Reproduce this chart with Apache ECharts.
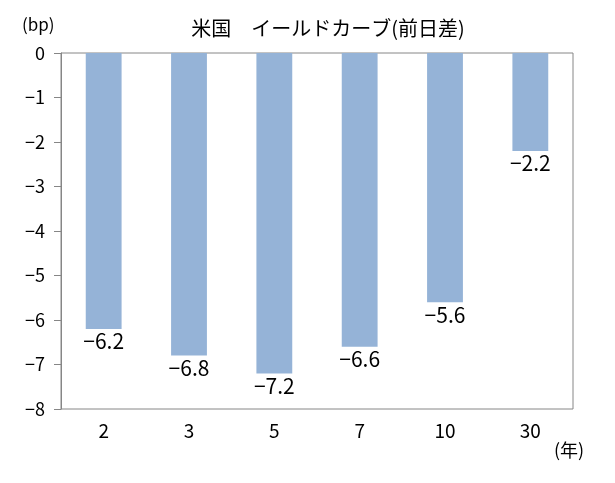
<!DOCTYPE html>
<html>
<head>
<meta charset="utf-8">
<script src="https://cdn.jsdelivr.net/npm/echarts@6/dist/echarts.min.js"></script>
<style>
  html, body { margin: 0; padding: 0; background: #fff; }
  #chart { width: 615px; height: 483px; }
</style>
</head>
<body>
<div id="chart"></div>
<script>
// 年限
const categories = ['2', '3', '5', '7', '10', '30'];
// 前日差 (bp)
const values = [-6.2, -6.8, -7.2, -6.6, -5.6, -2.2];

const font = '"Noto Sans CJK JP", "Noto Sans", sans-serif';
const minus = (v) => String(v).replace('-', '−');

const chart = echarts.init(document.getElementById('chart'));
chart.setOption({
  animation: false,
  textStyle: { fontFamily: font },
  title: {
    text: '米国　イールドカーブ(前日差)',
    left: 323,
    textAlign: 'center',
    top: 13,
    textStyle: { fontFamily: font, fontSize: 20, fontWeight: 'normal', color: '#000' },
  },
  graphic: [
    { type: 'text', left: 22, top: 16, style: { text: '(bp)', font: '17px ' + font, fill: '#000' } },
    { type: 'text', left: 554, top: 441, style: { text: '(年)', font: '18px ' + font, fill: '#000' } },
  ],
  grid: { left: 61, right: 42, top: 53, bottom: 74, show: true, borderColor: '#868686', borderWidth: 1 },
  xAxis: {
    type: 'category',
    data: categories,
    position: 'bottom',
    axisTick: { show: false },
    axisLine: { show: false },
    axisLabel: { color: '#000', fontSize: 19, margin: 12, fontFamily: font },
  },
  yAxis: {
    type: 'value',
    min: -8,
    max: 0,
    interval: 1,
    splitLine: { show: false },
    axisLine: { show: true, lineStyle: { color: '#868686' } },
    axisTick: { show: true, length: 7, lineStyle: { color: '#868686' } },
    axisLabel: { color: '#000', fontSize: 18, margin: 16, fontFamily: font, formatter: minus },
  },
  series: [
    {
      type: 'bar',
      data: values,
      barWidth: '42%',
      itemStyle: { color: '#95B3D7' },
      label: {
        show: true,
        position: 'bottom',
        distance: 2,
        color: '#000',
        fontSize: 21,
        fontFamily: font,
        formatter: (p) => minus(p.value),
      },
    },
  ],
});
</script>
</body>
</html>
